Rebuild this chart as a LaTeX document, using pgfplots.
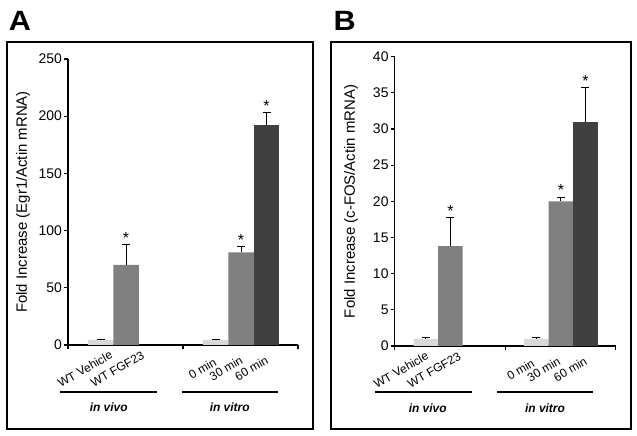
\documentclass[border=0pt]{standalone}
\usepackage{fontspec}
\setmainfont{Liberation Sans}
\usepackage{pgfplots}
\pgfplotsset{compat=1.18}

\definecolor{barL}{RGB}{217,217,217}
\definecolor{barM}{RGB}{128,128,128}
\definecolor{barD}{RGB}{64,64,64}

\tikzset{starlbl/.style={font=\fontsize{16}{18}\selectfont, yshift=6.5bp},
  catlbl/.style={rotate=30, anchor=center, inner sep=0pt, font=\fontsize{12}{14}\selectfont}}

\pgfplotsset{
  panel/.style={
    scale only axis, anchor=south west,
    axis lines=left, axis line style={-, line width=1.1bp, black},
    xmin=0, xmax=230, ymin=0,
    xtick={0,115,230}, xticklabels={},
    tick align=outside, major tick length=4bp,
    every tick/.style={line width=1.1bp, black},
    /pgf/number format/assume math mode=true,
    yticklabel style={font=\fontsize{14}{16}\selectfont, inner sep=2bp},
    ylabel style={font=\fontsize{15}{17}\selectfont, anchor=center},
    clip=false,
  },
  barplot/.style={ybar, bar width=25.5, bar shift=0pt, draw=none,
    error bars/y dir=plus, error bars/y explicit,
    error bars/error bar style={draw=black, line width=1bp},
    error bars/error mark options={draw=black, line width=1bp, mark size=4bp, rotate=90}},
}

\begin{document}
\begin{tikzpicture}[x=1bp,y=1bp]
\useasboundingbox (0,0) rectangle (637,436);

% ---------- Panel A ----------
\begin{axis}[panel, at={(68bp,91bp)}, width=230bp, height=286bp,
  ymax=250, ytick={0,50,100,150,200,250},
  ylabel={Fold Increase (Egr1/Actin mRNA)},
  ylabel style={at={(axis description cs:-0.196,0.5)}}]
\addplot[barplot, fill=barL] coordinates {(32.5,4.5) +- (0,0.6) (147.5,4.5) +- (0,0.6)};
\addplot[barplot, fill=barM] coordinates {(58,70) +- (0,18.1) (173,81) +- (0,4.9)};
\addplot[barplot, fill=barD] coordinates {(198.5,192.5) +- (0,10.8)};
\node[starlbl] at (axis cs:58,88.1) {*};
\node[starlbl] at (axis cs:173,85.9) {*};
\node[starlbl] at (axis cs:198.5,203.3) {*};
\end{axis}

% ---------- Panel B ----------
\begin{axis}[panel, at={(394.7bp,90bp)}, width=221bp, height=289.3bp,
  ymax=40, ytick={0,5,10,15,20,25,30,35,40},
  ylabel={Fold Increase (c-FOS/Actin mRNA)},
  ylabel style={at={(axis description cs:-0.198,0.5)}}]
\addplot[barplot, fill=barL] coordinates {(32.5,1.0) +- (0,0.15) (147.5,1.0) +- (0,0.12)};
\addplot[barplot, fill=barM] coordinates {(58,13.8) +- (0,3.9) (173,20.0) +- (0,0.6)};
\addplot[barplot, fill=barD] coordinates {(198.5,31.0) +- (0,4.7)};
\node[starlbl] at (axis cs:58,17.7) {*};
\node[starlbl] at (axis cs:173,20.6) {*};
\node[starlbl] at (axis cs:198.5,35.7) {*};
\end{axis}

% ---------- category labels ----------
\node[catlbl] at (85,67) {WT Vehicle};
\node[catlbl] at (117.4,67) {WT FGF23};
\node[catlbl] at (202.5,67.5) {0 min};
\node[catlbl] at (226,67.5) {30 min};
\node[catlbl] at (251.5,67.5) {60 min};
\node[catlbl] at (401,66) {WT Vehicle};
\node[catlbl] at (434.1,66) {WT FGF23};
\node[catlbl] at (520.6,66.5) {0 min};
\node[catlbl] at (543.7,66.5) {30 min};
\node[catlbl] at (570.3,66.5) {60 min};

% ---------- frames, group lines, labels ----------
\draw[line width=2bp] (6.7,6.7) rectangle (313.3,394.3);
\draw[line width=2bp] (331,6.7) rectangle (630.5,394.3);

\draw[line width=2bp] (60,44.3) -- (156.7,44.3);
\draw[line width=2bp] (181.7,44.3) -- (277.7,44.3);
\draw[line width=2bp] (375.3,43.7) -- (472.3,43.7);
\draw[line width=2bp] (497,43.7) -- (593.3,43.7);

\node[font=\fontsize{12}{14}\selectfont\bfseries\itshape] at (108.7,29) {in vivo};
\node[font=\fontsize{12}{14}\selectfont\bfseries\itshape] at (229.7,29) {in vitro};
\node[font=\fontsize{12}{14}\selectfont\bfseries\itshape] at (427.7,28) {in vivo};
\node[font=\fontsize{12}{14}\selectfont\bfseries\itshape] at (545,28) {in vitro};

\node[font=\fontsize{28}{30}\selectfont\bfseries, xscale=1.1] at (20,415.5) {A};
\node[font=\fontsize{28}{30}\selectfont\bfseries, xscale=1.1] at (344.7,415.5) {B};
\end{tikzpicture}
\end{document}
